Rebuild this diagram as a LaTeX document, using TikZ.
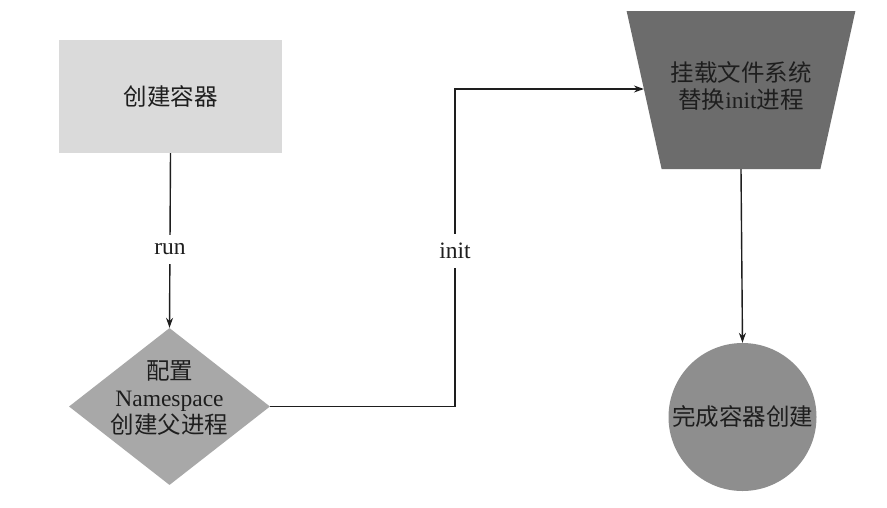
\documentclass[tikz,border=0pt]{standalone}
\usepackage{fontspec}
\setmainfont{Liberation Serif}
\newfontfamily\cjk{Noto Sans CJK SC}
\usetikzlibrary{shapes.geometric,arrows.meta}
\definecolor{rectc}{RGB}{218,218,218}
\definecolor{diac}{RGB}{168,168,168}
\definecolor{trapc}{RGB}{108,108,108}
\definecolor{circc}{RGB}{142,142,142}
\definecolor{inkc}{RGB}{30,30,30}
\begin{document}
\begin{tikzpicture}[x=1pt,y=-1pt,
  base/.style={inner sep=0pt, align=center, font=\fontsize{23.5}{27}\selectfont, text=inkc},
  rectbox/.style={base, rectangle, fill=rectc, minimum width=223pt, minimum height=113pt},
  diabox/.style={base, diamond, fill=diac, aspect=1.28, minimum width=201pt, minimum height=157pt},
  trapbox/.style={base, trapezium, shape border rotate=180, trapezium stretches=true,
     trapezium left angle=76.5, trapezium right angle=76.5, fill=trapc,
     minimum width=229pt, minimum height=158pt},
  circbox/.style={base, circle, fill=circc, minimum size=148pt},
  arr/.style={draw=inkc, line width=1.4pt, -{Stealth[length=10pt,width=7pt]}},
  lbl/.style={fill=white, inner xsep=3pt, inner ysep=9pt, text=inkc, font=\fontsize{23.5}{27}\selectfont}
]
\useasboundingbox (0,0) rectangle (887,507);
\fill[white] (0,0) rectangle (887,507);

\node[rectbox] (create) at (170.5,96.5) {{\cjk 创建容器}};
\node[diabox] (dia) at (169.5,406.5) {\phantom{x}};
\node[base] (diatext) at (169.5,398) {{\cjk 配置}\\Namespace\\{\cjk 创建父进程}};
\node[trapbox] (trap) at (741,90) {\phantom{x}};
\node[base] (traptext) at (741,86) {{\cjk 挂载文件系统}\\{\cjk 替换}init{\cjk 进程}};
\node[circbox] (done) at (742.5,417) {{\cjk 完成容器创建}};

\coordinate (bendA) at (455,406.5);
\coordinate (bendB) at (455,89);

\draw[arr] (create.south) -- node[lbl,pos=0.55]{run} (dia.north);
\draw[arr] (dia.east) -- (bendA) -- node[lbl,pos=0.49]{init} (bendB) -- (bendB -| trap.west);
\draw[arr] (trap.south) -- (done.north);
\end{tikzpicture}
\end{document}
